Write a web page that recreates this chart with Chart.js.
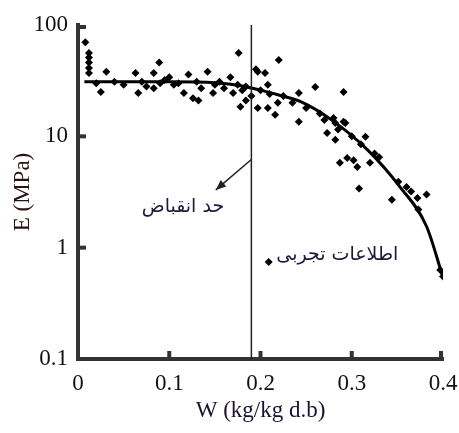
<!DOCTYPE html>
<html>
<head>
<meta charset="utf-8">
<script src="https://cdn.jsdelivr.net/npm/chart.js@4/dist/chart.umd.min.js"></script>
<style>
  html, body { margin: 0; padding: 0; background: #fff; }
  #wrap { width: 459px; height: 433px; position: relative; }
</style>
</head>
<body>
<div id="wrap"><canvas id="myChart"></canvas></div>
<script>
// measured points (W in kg/kg d.b, E in MPa)
var pointsW = [0.008, 0.012, 0.012, 0.012, 0.012, 0.012, 0.031, 0.025, 0.063, 0.066,
  0.083, 0.089, 0.083, 0.10, 0.121, 0.116, 0.126, 0.132, 0.142, 0.148,
  0.167, 0.170, 0.176, 0.178, 0.184, 0.184, 0.197, 0.195, 0.197, 0.205,
  0.208, 0.208, 0.216, 0.220, 0.219, 0.242, 0.242, 0.260, 0.273, 0.282,
  0.291, 0.287, 0.295, 0.280, 0.291, 0.282, 0.293, 0.315, 0.302, 0.306,
  0.320, 0.308, 0.351, 0.344, 0.372, 0.382, 0.373, 0.397, 0.400,
  0.02, 0.04, 0.05, 0.07, 0.075, 0.09, 0.095, 0.105, 0.11, 0.13,
  0.135, 0.15, 0.155, 0.16, 0.175, 0.18, 0.19, 0.20, 0.21, 0.225,
  0.235, 0.25, 0.265, 0.27, 0.285, 0.30, 0.31, 0.325, 0.33, 0.36, 0.365];
var pointsE = [70, 56, 51, 46, 41, 37, 38, 25, 37, 24.5,
  37, 46, 27, 34, 36, 24.5, 22, 21, 38, 24.5,
  34, 24.5, 56, 18.4, 21, 28, 38, 40, 18, 37,
  29, 18, 15.6, 48.6, 20, 24.5, 13.5, 27.8, 10.7, 9.3,
  25, 5.8, 6.4, 14.6, 13.5, 13.2, 13.2, 9.9, 6.1, 5.3,
  5.8, 3.4, 3.9, 2.7, 2.8, 3.0, 2.2, 0.63, 0.55,
  30, 31, 29, 31, 28, 30, 32, 29, 30, 31,
  27, 29, 31, 27, 29, 26, 23, 26, 24, 23,
  20, 18, 16, 14, 11.5, 10, 8.5, 7, 6.5, 3.5, 3.2];

// fitted curve
var curveW = [0.007, 0.05, 0.10, 0.15, 0.18, 0.20, 0.22, 0.244, 0.277, 0.317, 0.353, 0.382, 0.40];
var curveE = [31, 31, 31, 30.3, 28.3, 26, 23.5, 20.5, 14.2, 7.6, 3.5, 1.55, 0.54];

var xTicks = [0, 0.1, 0.2, 0.3, 0.4];
var yTicks = [0.1, 1, 10, 100];

var shrinkW = 0.19;
var shrinkLabel = 'حد انقباض';
var legendLabel = 'اطلاعات تجربی';

var scatterData = [];
for (var i = 0; i < pointsW.length; i++) {
  scatterData.push({x: pointsW[i], y: pointsE[i]});
}
var curveData = [];
for (var j = 0; j < curveW.length; j++) {
  curveData.push({x: curveW[j], y: curveE[j]});
}

var decor = {
  id: 'decor',
  afterDatasetsDraw: function(chart) {
    var ctx = chart.ctx;
    var xs = chart.scales.x, ys = chart.scales.y;
    var a = chart.chartArea;
    ctx.save();
    // shrinkage limit line
    var lx = xs.getPixelForValue(shrinkW);
    ctx.strokeStyle = '#222';
    ctx.lineWidth = 1.5;
    ctx.beginPath();
    ctx.moveTo(lx, a.top);
    ctx.lineTo(lx, a.bottom);
    ctx.stroke();

    // inward tick marks
    ctx.strokeStyle = '#333';
    ctx.lineWidth = 4;
    xTicks.slice(1).forEach(function(v) {
      var px = xs.getPixelForValue(v);
      if (v === 0.4) px -= 2;
      ctx.beginPath();
      ctx.moveTo(px, a.bottom);
      ctx.lineTo(px, a.bottom - 8);
      ctx.stroke();
    });
    yTicks.slice(1).forEach(function(v) {
      var py = ys.getPixelForValue(v);
      if (v === 100) py += 2;
      ctx.beginPath();
      ctx.moveTo(a.left, py);
      ctx.lineTo(a.left + 8, py);
      ctx.stroke();
    });

    // arrow
    var x1 = lx, y1 = ys.getPixelForValue(6.2);
    var x2 = xs.getPixelForValue(0.151), y2 = ys.getPixelForValue(3.3);
    ctx.strokeStyle = '#222';
    ctx.fillStyle = '#222';
    ctx.lineWidth = 1.5;
    ctx.beginPath();
    ctx.moveTo(x1, y1);
    ctx.lineTo(x2, y2);
    ctx.stroke();
    var ang = Math.atan2(y2 - y1, x2 - x1);
    ctx.beginPath();
    ctx.moveTo(x2, y2);
    ctx.lineTo(x2 - 11 * Math.cos(ang - 0.4), y2 - 11 * Math.sin(ang - 0.4));
    ctx.lineTo(x2 - 11 * Math.cos(ang + 0.4), y2 - 11 * Math.sin(ang + 0.4));
    ctx.closePath();
    ctx.fill();

    // texts
    ctx.font = '19px "DejaVu Sans"';
    ctx.fillStyle = '#1a1a3a';
    ctx.textAlign = 'center';
    ctx.textBaseline = 'middle';
    ctx.fillText(shrinkLabel, xs.getPixelForValue(0.115), ys.getPixelForValue(2.32));

    // legend
    var mx = xs.getPixelForValue(0.209), my = ys.getPixelForValue(0.745);
    ctx.fillStyle = '#000';
    ctx.beginPath();
    ctx.moveTo(mx, my - 4);
    ctx.lineTo(mx + 4, my);
    ctx.lineTo(mx, my + 4);
    ctx.lineTo(mx - 4, my);
    ctx.closePath();
    ctx.fill();
    ctx.fillStyle = '#1a1a3a';
    ctx.textAlign = 'right';
    ctx.fillText(legendLabel, xs.getPixelForValue(0.351), ys.getPixelForValue(0.86));
    ctx.restore();
  }
};

var ctx = document.getElementById('myChart');
var myChart = new Chart(ctx, {
  type: 'scatter',
  data: {
    datasets: [{
      label: 'curve',
      type: 'line',
      data: curveData,
      borderColor: '#000',
      borderWidth: 3,
      pointRadius: 0,
      fill: false,
      cubicInterpolationMode: 'monotone'
    }, {
      label: 'data',
      data: scatterData,
      pointStyle: 'rectRot',
      pointRadius: 4,
      backgroundColor: '#000',
      borderColor: '#000',
      borderWidth: 0
    }]
  },
  options: {
    responsive: true,
    maintainAspectRatio: false,
    animation: false,
    layout: { padding: { top: 25, right: 16, left: 0, bottom: 0 } },
    plugins: { legend: { display: false }, tooltip: { enabled: false } },
    scales: {
      x: {
        type: 'linear',
        min: 0,
        max: 0.4,
        afterBuildTicks: function(scale) {
          scale.ticks = xTicks.map(function(v) { return {value: v}; });
        },
        afterFit: function(scale) {
          scale.height = 74;
          scale.paddingLeft = 0;
          scale.paddingRight = 0;
        },
        grid: { display: false, drawTicks: false },
        border: { display: true, width: 4, color: '#333' },
        ticks: {
          padding: 11,
          color: '#111',
          font: { family: '"Liberation Serif"', size: 23 },
          callback: function(v) { return v === 0 ? '0' : Number(v).toFixed(1); }
        },
        title: {
          display: true,
          text: 'W (kg/kg d.b)',
          color: '#1a1033',
          font: { family: '"Liberation Serif"', size: 23 },
          padding: { top: 0, bottom: 8 }
        }
      },
      y: {
        type: 'logarithmic',
        min: 0.1,
        max: 100,
        afterBuildTicks: function(scale) {
          scale.ticks = yTicks.map(function(v) { return {value: v}; });
        },
        afterFit: function(scale) {
          scale.width = 78;
          scale.paddingTop = 0;
          scale.paddingBottom = 0;
        },
        grid: { display: false, drawTicks: false },
        border: { display: true, width: 4, color: '#333' },
        ticks: {
          padding: 10,
          color: '#111',
          font: { family: '"Liberation Serif"', size: 23 },
          callback: function(v) { return String(v); }
        },
        title: {
          display: true,
          text: 'E (MPa)',
          color: '#2a1010',
          font: { family: '"Liberation Serif"', size: 23 },
          padding: { top: 9, bottom: 0 }
        }
      }
    }
  },
  plugins: [decor]
});
</script>
</body>
</html>
